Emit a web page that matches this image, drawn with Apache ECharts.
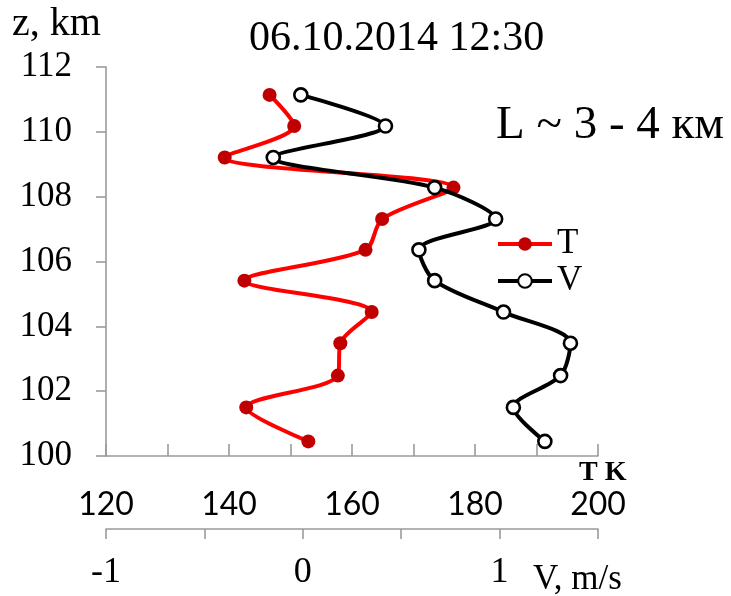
<!DOCTYPE html>
<html>
<head>
<meta charset="utf-8">
<script src="https://cdn.jsdelivr.net/npm/echarts@6/dist/echarts.min.js"></script>
<style>
  html, body { margin: 0; padding: 0; background: #fff; }
  #chart { width: 731px; height: 596px; }
</style>
</head>
<body>
<div id="chart"></div>
<script>
// Altitude profile: temperature and wind speed versus height
const heightsKm = [100.45, 101.50, 102.48, 103.48, 104.44, 105.41, 106.36, 107.31, 108.28, 109.21, 110.18, 111.14];
const temperatureK = [152.9, 142.8, 157.7, 158.1, 163.2, 142.5, 162.2, 164.9, 176.5, 139.3, 150.6, 146.6];
const windMs = [1.23, 1.07, 1.31, 1.36, 1.02, 0.67, 0.59, 0.98, 0.67, -0.15, 0.42, -0.01];

const tempTicks = [120, 140, 160, 180, 200];
const windTicks = [-1, 0, 1];
const heightTicks = [100, 102, 104, 106, 108, 110, 112];

const titleText = '06.10.2014 12:30';
const noteText = 'L ~ 3 - 4 км';

const SERIF = '"Liberation Serif", "Times New Roman", serif';
const SANS = 'Lato, "Noto Sans", sans-serif';
const AXIS_GREY = '#9a9a9a';

const chart = echarts.init(document.getElementById('chart'), null, { renderer: 'canvas' });

const pairs = (xs) => xs.map((x, i) => [x, heightsKm[i]]);

const textItem = (text, left, top, size, weight) => ({
  type: 'text', left, top, silent: true,
  style: {
    text,
    fontFamily: SERIF,
    fontSize: size,
    fontWeight: weight || 'normal',
    fill: '#000'
  }
});

chart.setOption({
  animation: false,
  backgroundColor: '#ffffff',
  grid: { left: 106, right: 133, top: 67, bottom: 140, containLabel: false },
  xAxis: [
    {
      type: 'value',
      position: 'bottom',
      min: tempTicks[0],
      max: tempTicks[tempTicks.length - 1],
      interval: 10,
      splitLine: { show: false },
      axisLine: { show: true, onZero: false, lineStyle: { color: AXIS_GREY, width: 1.6 } },
      axisTick: { show: true, inside: true, length: 12, lineStyle: { color: AXIS_GREY, width: 1.6 } },
      axisLabel: {
        margin: 33,
        fontFamily: SANS,
        fontSize: 32,
        lineHeight: 32,
        color: '#000',
        formatter: (v) => (tempTicks.includes(v) ? String(v) : '')
      }
    },
    {
      type: 'value',
      position: 'bottom',
      offset: 73,
      min: windTicks[0],
      max: 1.5,
      interval: 0.5,
      splitLine: { show: false },
      axisLine: { show: true, onZero: false, lineStyle: { color: AXIS_GREY, width: 1.6 } },
      axisTick: { show: true, inside: false, length: 10, lineStyle: { color: AXIS_GREY, width: 1.6 } },
      axisLabel: {
        margin: 26,
        fontFamily: SERIF,
        fontSize: 36,
        lineHeight: 36,
        color: '#000',
        formatter: (v) => (windTicks.includes(v) ? String(v) : '')
      }
    }
  ],
  yAxis: {
    type: 'value',
    min: heightTicks[0],
    max: heightTicks[heightTicks.length - 1],
    interval: 2,
    splitLine: { show: false },
    axisLine: { show: true, onZero: false, lineStyle: { color: AXIS_GREY, width: 1.6 } },
    axisTick: { show: true, inside: false, length: 10, lineStyle: { color: AXIS_GREY, width: 1.6 } },
    axisLabel: {
      margin: 34,
      fontFamily: SERIF,
      fontSize: 35,
      color: '#000'
    }
  },
  legend: {
    orient: 'vertical',
    left: 491,
    top: 221,
    itemWidth: 54,
    itemHeight: 17,
    itemGap: 1,
    lineStyle: { width: 4 },
    textStyle: { fontFamily: SERIF, fontSize: 35, lineHeight: 36, color: '#000' },
    data: ['T', 'V']
  },
  graphic: [
    textItem(titleText, 249, 18, 42),
    textItem('z, km', 12, 4, 40),
    textItem(noteText, 496, 102, 47),
    textItem('T K', 579, 459, 28, 'bold'),
    textItem('V, m/s', 533, 562, 35)
  ],
  series: [
    {
      name: 'T',
      type: 'line',
      xAxisIndex: 0,
      data: pairs(temperatureK),
      smooth: 0.3,
      symbol: 'circle',
      symbolSize: 14,
      itemStyle: { color: '#c00000' },
      lineStyle: { color: '#ff0000', width: 4 },
      z: 2
    },
    {
      name: 'V',
      type: 'line',
      xAxisIndex: 1,
      data: pairs(windMs),
      smooth: 0.3,
      symbol: 'circle',
      symbolSize: 13,
      itemStyle: { color: '#ffffff', borderColor: '#000000', borderWidth: 2.6 },
      lineStyle: { color: '#000000', width: 4 },
      z: 3
    }
  ]
});
</script>
</body>
</html>
